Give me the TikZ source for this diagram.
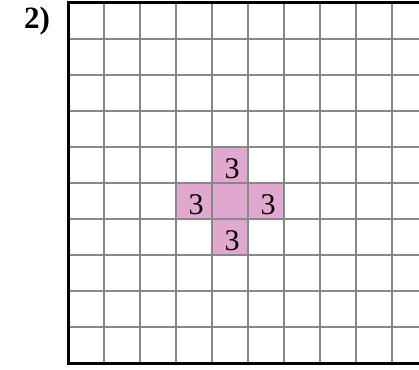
\documentclass[tikz,border=0pt]{standalone}
\usepackage{fontspec}
\setmainfont{Liberation Serif}
\definecolor{cellpink}{RGB}{224,168,206}
\definecolor{gridgray}{RGB}{136,136,136}
\tikzset{
  gridline/.style={draw=gridgray,line width=2pt},
  frameline/.style={draw=black,line width=3pt},
  pinkcell/.style={fill=cellpink},
  numtext/.style={inner sep=0pt,font=\fontsize{30}{32}\selectfont},
  labeltext/.style={inner sep=0pt,font=\fontsize{31}{34}\selectfont\bfseries}
}
\begin{document}
\begin{tikzpicture}[x=1pt,y=-1pt]
\useasboundingbox (0,0) rectangle (419,369);
\clip (0,0) rectangle (419,369);
% pink cells
\foreach \c/\r in {4/4,3/5,4/5,5/5,4/6}{
  \fill[pinkcell] (68+36*\c,3+36*\r) rectangle ++(36,36);
}
% grid
\foreach \i in {1,...,9}{
  \draw[gridline] (68,3+36*\i) -- (430,3+36*\i);
}
\foreach \i in {1,...,10}{
  \draw[gridline] (68+36*\i,3) -- (68+36*\i,363);
}
% frame
\draw[frameline] (430,3) -- (68,3) -- (68,363) -- (430,363);
% numbers
\node[numtext] (n1) at (232,169) {3};
\node[numtext] (n2) at (196,205) {3};
\node[numtext] (n3) at (268,205) {3};
\node[numtext] (n4) at (232,241) {3};
\node[labeltext] (lab) at (37,21) {2)};
\end{tikzpicture}
\end{document}
